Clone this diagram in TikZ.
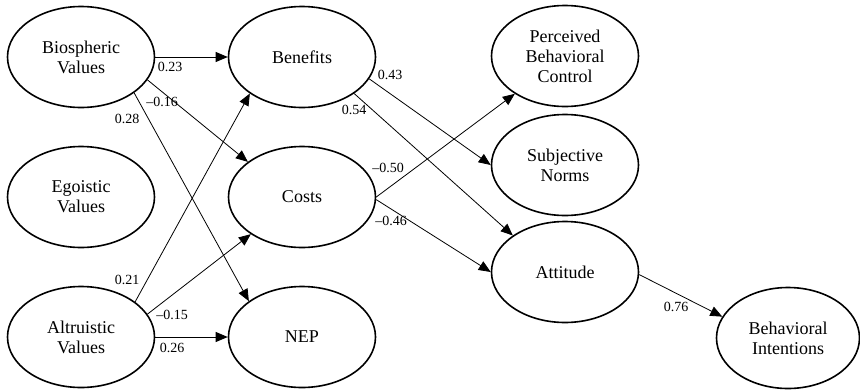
\documentclass[tikz,border=0pt]{standalone}
\usepackage{fontspec}
\setmainfont{Liberation Serif}
\usetikzlibrary{arrows.meta,shapes.geometric}
\tikzset{
  latent/.style={draw, line width=1.6pt, ellipse, minimum width=147pt, minimum height=101pt, inner sep=0pt, align=center, font=\fontsize{18}{20}\selectfont},
  path/.style={line width=0.8pt, -{Triangle[length=12pt,width=10pt]}},
  coef/.style={font=\fontsize{14}{16}\selectfont, inner sep=0pt}
}
\begin{document}
\begin{tikzpicture}[x=1pt,y=-1pt]
\useasboundingbox (0,0) rectangle (860,389);
\node[latent] (bio) at (81,57) {Biospheric\\Values};
\node[latent] (ego) at (81,197) {Egoistic\\Values};
\node[latent] (alt) at (81,337) {Altruistic\\Values};
\node[latent] (ben) at (302,57) {Benefits};
\node[latent] (cos) at (302,197) {Costs};
\node[latent] (nep) at (302,337) {NEP};
\node[latent] (pbc) at (565,56) {Perceived\\Behavioral\\Control};
\node[latent] (sn) at (565,165) {Subjective\\Norms};
\node[latent] (att) at (565,272) {Attitude};
\node[latent, minimum width=143pt] (bi) at (788,338) {Behavioral\\Intentions};

\draw[path] (bio.east) -- (ben.west);
\draw[path] (bio.-19) -- (cos.147);
\draw[path] (bio.-34) -- (nep.146);
\draw[path] (alt.33) -- (ben.-145);
\draw[path] (alt.19) -- (cos.-144);
\draw[path] (alt.east) -- (nep.west);
\draw[path] (ben.-18) -- (sn.west);
\draw[path] (ben.-35) -- (att.145);
\draw[path] (cos.east) -- (pbc.-143);
\draw[path] (cos.-2) -- (att.west);
\draw[path] (att.-2) -- (bi.162);

\node[coef] (l1) at (170,67) {0.23};
\node[coef] (l2) at (162,102) {–0.16};
\node[coef] (l3) at (127,119) {0.28};
\node[coef] (l4) at (127,280) {0.21};
\node[coef] (l5) at (172,315) {–0.15};
\node[coef] (l6) at (172,348) {0.26};
\node[coef] (l7) at (390,75) {0.43};
\node[coef] (l8) at (354,110) {0.54};
\node[coef] (l9) at (388,168) {–0.50};
\node[coef] (l10) at (391,221) {–0.46};
\node[coef] (l11) at (676,307) {0.76};
\end{tikzpicture}
\end{document}
